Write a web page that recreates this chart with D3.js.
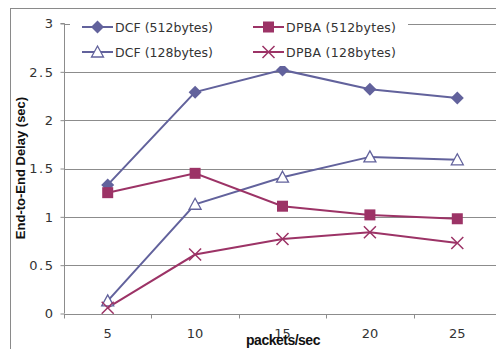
<!DOCTYPE html>
<html><head><meta charset="utf-8">
<script src="https://cdn.jsdelivr.net/npm/d3@7"></script>
<style>body{margin:0;background:#fff}svg{display:block}</style>
</head><body><svg id="c" width="496" height="349"></svg>
<script>
const categories = ["5","10","15","20","25"];
const yTicks = [0,0.5,1,1.5,2,2.5,3];
const yTickLabels = ["0","0.5","1","1.5","2","2.5","3"];
const dcf512 = [1.33,2.29,2.52,2.32,2.23];
const dpba512 = [1.25,1.45,1.11,1.02,0.98];
const dcf128 = [0.13,1.13,1.41,1.62,1.59];
const dpba128 = [0.06,0.61,0.77,0.84,0.73];
const seriesNames = ["DCF (512bytes)","DPBA (512bytes)","DCF (128bytes)","DPBA (128bytes)"];

const blue = "#62629c", red = "#9c3366";
const series = [
  {name:seriesNames[0], values:dcf512, color:blue, marker:"diamond"},
  {name:seriesNames[1], values:dpba512, color:red, marker:"square"},
  {name:seriesNames[2], values:dcf128, color:blue, marker:"triangle"},
  {name:seriesNames[3], values:dpba128, color:red, marker:"cross"}
];

const svg = d3.select("#c");
const L = 64, R = 501, T = 23.5, B = 313.5;
const x = d3.scaleBand().domain(categories).range([L,R]);
const y = d3.scaleLinear().domain([0,3]).range([B,T]);

// outer border
svg.append("rect").attr("x",10.5).attr("y",8.5).attr("width",500).attr("height",360)
  .attr("fill","none").attr("stroke","#8a8a8a").attr("stroke-width",1);

// gridlines
svg.append("g").selectAll("line").data(yTicks.slice(1)).join("line")
  .attr("x1",L).attr("x2",R).attr("y1",d=>Math.round(y(d))+0.5).attr("y2",d=>Math.round(y(d))+0.5)
  .attr("stroke","#8c8c8c").attr("stroke-width",1);

// y axis
const ya = svg.append("g").attr("transform",`translate(${L+0.5},0)`)
  .call(d3.axisLeft(y).tickValues(yTicks).tickFormat((d,i)=>yTickLabels[i]).tickSize(4).tickPadding(6));
ya.select(".domain").attr("stroke","#8c8c8c").attr("d",`M-4,${T}H0V${B}`);
ya.selectAll(".tick line").attr("stroke","#8c8c8c");
ya.selectAll(".tick text").attr("font-family","'DejaVu Sans', sans-serif").attr("font-size",13).attr("fill","#333")
  .attr("letter-spacing","1.5px");

// x axis
const xa = svg.append("g").attr("transform",`translate(0,${Math.round(B)+0.5})`)
  .call(d3.axisBottom(x).tickSize(0).tickPadding(14));
xa.select(".domain").attr("stroke","#8c8c8c").attr("d",`M${L},0H${R}`);
xa.selectAll(".tick text").attr("font-family","'DejaVu Sans', sans-serif").attr("font-size",13).attr("fill","#333");
xa.append("g").selectAll("line").data(categories).join("line")
  .attr("x1",d=>Math.round(x(d))+0.5).attr("x2",d=>Math.round(x(d))+0.5).attr("y1",0).attr("y2",4)
  .attr("stroke","#8c8c8c");

// axis titles
svg.append("text").attr("x",283).attr("y",345).attr("text-anchor","middle")
  .attr("font-family","'Liberation Sans', Arial, sans-serif").attr("font-weight","bold").attr("font-size",14)
  .attr("letter-spacing","-0.5px").attr("fill","#111").text("packets/sec");
svg.append("text").attr("transform","translate(25,168) rotate(-90)").attr("text-anchor","middle")
  .attr("font-family","'Liberation Sans', Arial, sans-serif").attr("font-weight","bold").attr("font-size",13)
  .attr("fill","#111").text("End-to-End Delay (sec)");

function drawMarker(g, type, color){
  if(type==="diamond"){
    g.append("path").attr("d","M0,-6.5L6.5,0L0,6.5L-6.5,0Z").attr("fill",color);
  } else if(type==="square"){
    g.append("rect").attr("x",-5.5).attr("y",-5.5).attr("width",11).attr("height",11).attr("fill",color);
  } else if(type==="triangle"){
    g.append("path").attr("d","M0,-6L6,5L-6,5Z").attr("fill","#fff").attr("stroke",color).attr("stroke-width",1.3);
  } else {
    g.append("path").attr("d","M-6,-6L6,6M6,-6L-6,6").attr("stroke",color).attr("stroke-width",1.5).attr("fill","none");
  }
}

const line = d3.line().x((d,i)=>x(categories[i])+x.bandwidth()/2).y(d=>y(d));
// draw order
[0,2,1,3].forEach(si=>{
  const s = series[si];
  svg.append("path").attr("d",line(s.values)).attr("fill","none").attr("stroke",s.color).attr("stroke-width",2);
});
[0,2,1,3].forEach(si=>{
  const s = series[si];
  s.values.forEach((v,i)=>{
    const g = svg.append("g").attr("transform",`translate(${x(categories[i])+x.bandwidth()/2},${y(v)})`);
    drawMarker(g, s.marker, s.color);
  });
});

// legend
svg.append("rect").attr("x",70).attr("y",12).attr("width",338).attr("height",54).attr("fill","#fff");
const legPos = [[82,27],[253,27],[82,52],[253,52]];
series.forEach((s,i)=>{
  const [lx,ly] = legPos[i];
  const g = svg.append("g").attr("transform",`translate(${lx},${ly})`);
  g.append("line").attr("x1",0).attr("x2",31).attr("y1",0).attr("y2",0).attr("stroke",s.color).attr("stroke-width",2);
  const m = g.append("g").attr("transform","translate(15.5,0)");
  drawMarker(m, s.marker, s.color);
  g.append("text").attr("x",33).attr("y",5).attr("font-family","'DejaVu Sans', sans-serif").attr("font-size",12.5)
    .attr("fill","#333").attr("textLength", s.name.startsWith("DCF")?98:110).attr("lengthAdjust","spacing").text(s.name);
});
</script></body></html>
